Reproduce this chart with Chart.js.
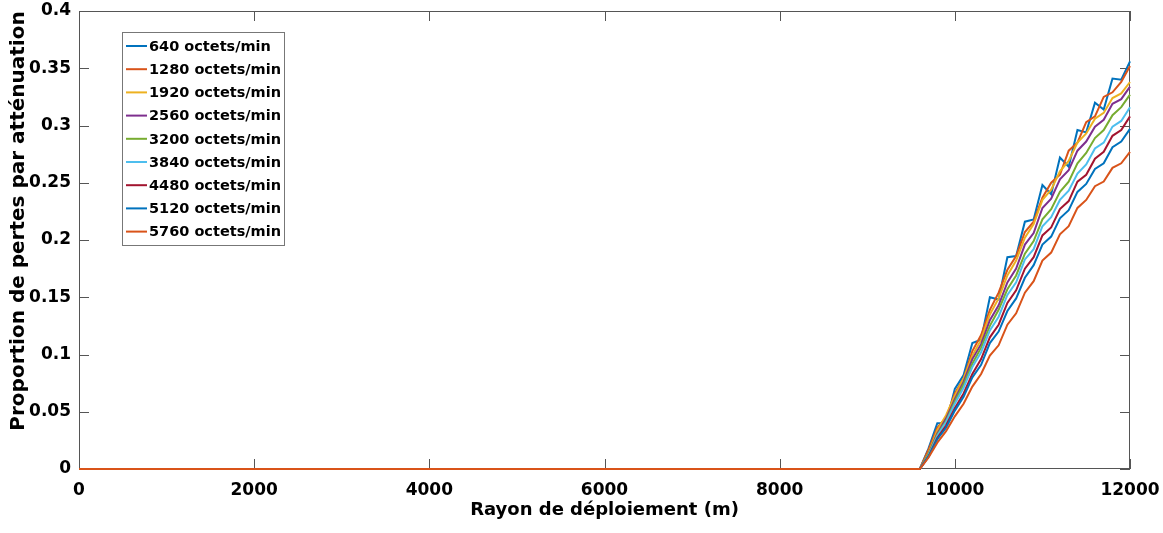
<!DOCTYPE html>
<html>
<head>
<meta charset="utf-8">
<script src="https://cdn.jsdelivr.net/npm/chart.js@4.4.1/dist/chart.umd.min.js"></script>
<style>
  body { margin: 0; background: #fff; }
</style>
</head>
<body>
<canvas id="lossChart" width="1163" height="533"></canvas>
<script>
// deployment radius (m)
const radius = [0, 9600, 9700, 9800, 9900, 10000, 10100, 10200, 10300, 10400, 10500, 10600, 10700,
  10800, 10900, 11000, 11100, 11200, 11300, 11400, 11500, 11600, 11700, 11800, 11900, 12000];

// attenuation loss ratio for each traffic rate
const loss640 = [0, 0, 0.018, 0.040, 0.040, 0.070, 0.082, 0.110, 0.113, 0.150, 0.148, 0.185, 0.186, 0.216, 0.218, 0.248, 0.240, 0.272, 0.264, 0.296, 0.294, 0.320, 0.314, 0.341, 0.340, 0.356];
const loss1280 = [0, 0, 0.017, 0.036, 0.045, 0.066, 0.079, 0.103, 0.117, 0.139, 0.154, 0.174, 0.186, 0.207, 0.216, 0.237, 0.250, 0.257, 0.278, 0.285, 0.303, 0.308, 0.325, 0.329, 0.338, 0.352];
const loss1920 = [0, 0, 0.014, 0.034, 0.047, 0.064, 0.079, 0.099, 0.113, 0.135, 0.149, 0.169, 0.182, 0.202, 0.214, 0.235, 0.244, 0.260, 0.269, 0.285, 0.293, 0.306, 0.311, 0.324, 0.328, 0.338];
const loss2560 = [0, 0, 0.013, 0.031, 0.044, 0.061, 0.076, 0.096, 0.109, 0.130, 0.143, 0.163, 0.175, 0.196, 0.206, 0.228, 0.236, 0.253, 0.261, 0.278, 0.286, 0.299, 0.305, 0.319, 0.323, 0.334];
const loss3200 = [0, 0, 0.013, 0.030, 0.042, 0.059, 0.074, 0.092, 0.106, 0.125, 0.139, 0.157, 0.169, 0.188, 0.199, 0.218, 0.227, 0.242, 0.251, 0.267, 0.276, 0.289, 0.296, 0.309, 0.316, 0.327];
const loss3840 = [0, 0, 0.012, 0.029, 0.041, 0.057, 0.071, 0.089, 0.102, 0.121, 0.133, 0.152, 0.163, 0.183, 0.192, 0.212, 0.220, 0.235, 0.243, 0.258, 0.266, 0.280, 0.285, 0.299, 0.304, 0.316];
const loss4480 = [0, 0, 0.011, 0.027, 0.038, 0.053, 0.066, 0.083, 0.096, 0.115, 0.126, 0.145, 0.156, 0.175, 0.185, 0.204, 0.211, 0.227, 0.234, 0.251, 0.257, 0.271, 0.277, 0.291, 0.296, 0.308];
const loss5120 = [0, 0, 0.011, 0.026, 0.036, 0.051, 0.063, 0.080, 0.091, 0.110, 0.120, 0.138, 0.149, 0.167, 0.178, 0.196, 0.203, 0.219, 0.226, 0.242, 0.249, 0.262, 0.267, 0.281, 0.286, 0.297];
const loss5760 = [0, 0, 0.010, 0.023, 0.033, 0.046, 0.057, 0.072, 0.083, 0.099, 0.108, 0.126, 0.136, 0.154, 0.164, 0.182, 0.189, 0.205, 0.212, 0.228, 0.235, 0.247, 0.251, 0.263, 0.267, 0.277];

const labels = ["640 octets/min", "1280 octets/min", "1920 octets/min", "2560 octets/min", "3200 octets/min",
  "3840 octets/min", "4480 octets/min", "5120 octets/min", "5760 octets/min"];
const series = [loss640, loss1280, loss1920, loss2560, loss3200, loss3840, loss4480, loss5120, loss5760];
const colors = ["#0072BD", "#D95319", "#EDB120", "#7E2F8E", "#77AC30", "#4DBEEE", "#A2142F", "#0072BD", "#D95319"];

const xTicks = [0, 2000, 4000, 6000, 8000, 10000, 12000];

const FONT = "'DejaVu Sans', sans-serif";
const yTitle = 'Proportion de pertes par atténuation';

let datasets = series.map(function(s, i) {
  return {
    label: labels[i],
    data: s.map(function(v, j) { return {x: radius[j], y: v}; }),
    borderColor: colors[i],
    borderWidth: 2,
    pointRadius: 0,
    tension: 0,
    fill: false,
    clip: 5,
    order: series.length - i   // last series on top
  };
});

// box around the axes, inward tick marks, y title, legend inside the plot
const axesBox = {
  id: 'axesBox',
  beforeDatasetsDraw(chart) {
    const {ctx, chartArea: a, scales: {x, y}} = chart;
    ctx.save();
    ctx.strokeStyle = '#555';
    ctx.lineWidth = 1;
    ctx.beginPath();
    x.ticks.forEach(function(t) {
      let px = Math.round(x.getPixelForValue(t.value)) + 0.5;
      ctx.moveTo(px, a.bottom); ctx.lineTo(px, a.bottom - 10);
      ctx.moveTo(px, a.top); ctx.lineTo(px, a.top + 10);
    });
    y.ticks.forEach(function(t) {
      let py = Math.round(y.getPixelForValue(t.value)) + 0.5;
      ctx.moveTo(a.left, py); ctx.lineTo(a.left + 10, py);
      ctx.moveTo(a.right, py); ctx.lineTo(a.right - 10, py);
    });
    ctx.stroke();
    ctx.strokeRect(a.left + 0.5, a.top + 0.5, a.width - 1, a.height - 1);

    // vertical axis title
    ctx.translate(19, 221);
    ctx.rotate(-Math.PI / 2);
    ctx.font = 'bold 20px ' + FONT;
    ctx.fillStyle = '#000';
    ctx.textAlign = 'center';
    ctx.textBaseline = 'middle';
    ctx.fillText(yTitle, 0, 0);
    ctx.restore();
  },
  afterDatasetsDraw(chart) {
    const ctx = chart.ctx;
    const bx = 122, by = 32, bw = 162, bh = 213, rowH = 23.2;
    ctx.save();
    ctx.fillStyle = '#fff';
    ctx.fillRect(bx, by, bw, bh);
    ctx.strokeStyle = '#777';
    ctx.lineWidth = 1;
    ctx.strokeRect(bx + 0.5, by + 0.5, bw, bh);
    ctx.font = 'bold 14.5px ' + FONT;
    ctx.textBaseline = 'middle';
    ctx.fillStyle = '#000';
    chart.data.datasets.forEach(function(ds, i) {
      let ry = by + 14 + i * rowH;
      ctx.strokeStyle = ds.borderColor;
      ctx.lineWidth = 2;
      ctx.beginPath();
      ctx.moveTo(126, ry); ctx.lineTo(147, ry);
      ctx.stroke();
      ctx.fillText(ds.label, 149, ry + 1);
    });
    ctx.restore();
  }
};

let ctx = document.getElementById('lossChart').getContext('2d');

let lossChart = new Chart(ctx, {
  type: 'line',
  data: { datasets: datasets },
  options: {
    responsive: false,
    animation: false,
    layout: { padding: { top: 11, right: 33, left: 0, bottom: 0 } },
    plugins: {
      legend: { display: false },
      tooltip: { enabled: false }
    },
    scales: {
      x: {
        type: 'linear',
        min: 0,
        max: 12000,
        afterFit: function(s) {
          s.height = 64;
          s.paddingLeft = 0;
          s.paddingRight = 0;
        },
        afterBuildTicks: function(s) { s.ticks = xTicks.map(function(v) { return {value: v}; }); },
        grid: { display: false, drawTicks: false },
        border: { display: false },
        ticks: {
          padding: 11,
          color: '#000',
          font: { family: FONT, size: 17, weight: 'bold' },
          maxRotation: 0,
          callback: function(v) { return String(v); }
        },
        title: {
          display: true,
          text: 'Rayon de déploiement (m)',
          color: '#000',
          font: { family: FONT, size: 18, weight: 'bold' },
          padding: { top: 0, bottom: 12 }
        }
      },
      y: {
        min: 0,
        max: 0.4,
        afterFit: function(s) {
          s.width = 79;
          s.paddingTop = 0;
          s.paddingBottom = 0;
        },
        grid: { display: false, drawTicks: false },
        border: { display: false },
        ticks: {
          stepSize: 0.05,
          padding: 8,
          color: '#000',
          font: { family: FONT, size: 17, weight: 'bold' },
          callback: function(v) { return String(+v.toFixed(2)); }
        }
      }
    }
  },
  plugins: [axesBox]
});
</script>
</body>
</html>
